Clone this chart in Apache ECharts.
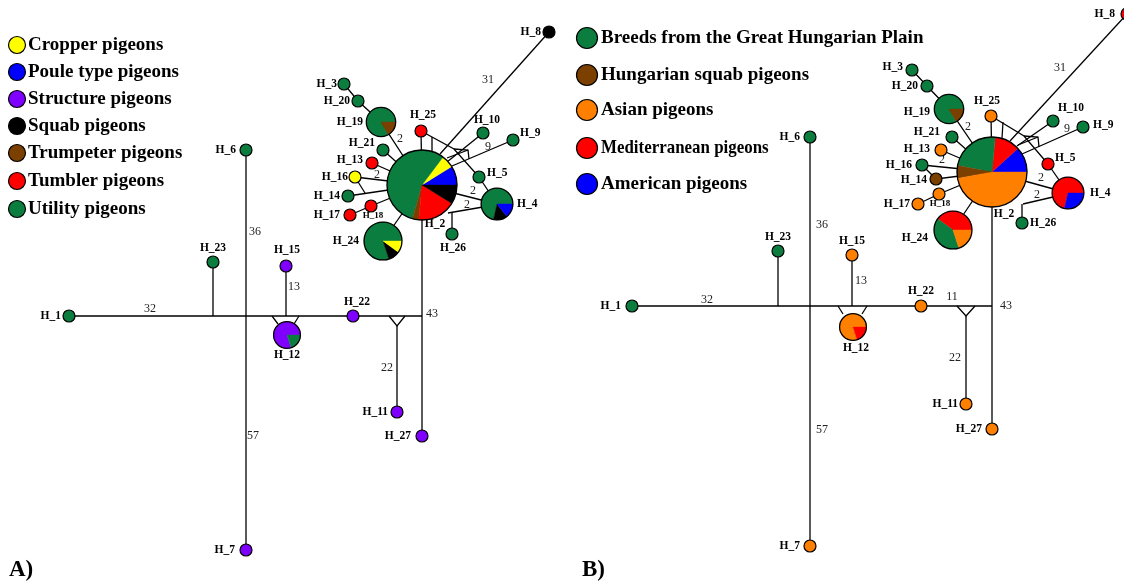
<!DOCTYPE html>
<html>
<head>
<meta charset="utf-8">
<title>Haplotype networks</title>
<script src="https://cdn.jsdelivr.net/npm/echarts/dist/echarts.min.js"></script>
<style>
  html, body { margin: 0; padding: 0; background: #fff; }
  #chart { width: 1124px; height: 581px; }
</style>
</head>
<body>
<div id="chart"></div>
<script>
// ---------- groups ----------
const groupsA = ['Cropper pigeons', 'Poule type pigeons', 'Structure pigeons', 'Squab pigeons',
                 'Trumpeter pigeons', 'Tumbler pigeons', 'Utility pigeons'];
const groupsB = ['Breeds from the Great Hungarian Plain', 'Hungarian squab pigeons', 'Asian pigeons',
                 'Mediterranean pigeons', 'American pigeons'];

// ---------- haplotype layout (network coordinates) ----------
const layoutA = {
  H_1: [69, 316], H_23: [213, 262], H_6: [246, 150], H_7: [246, 550], H_15: [286, 266],
  H_12: [287, 335], H_22: [353, 316], H_11: [397, 412], H_27: [422, 436], H_2: [422, 185],
  H_3: [344, 84], H_20: [358, 101], H_19: [381, 122], H_25: [421, 131], H_21: [383, 150],
  H_13: [372, 163], H_16: [355, 177], H_14: [348, 196], H_18: [371, 206], H_17: [350, 215],
  H_24: [383, 241], H_26: [452, 234], H_4: [497, 204], H_5: [479, 177], H_10: [483, 133],
  H_9: [513, 140], H_8: [549, 32]
};
const layoutB = {
  H_1: [632, 306], H_23: [778, 251], H_6: [810, 137], H_7: [810, 546], H_15: [852, 255],
  H_12: [853, 327], H_22: [921, 306], H_11: [966, 404], H_27: [992, 429], H_2: [992, 172],
  H_3: [912, 70], H_20: [927, 86], H_19: [949, 109], H_25: [991, 116], H_21: [952, 137],
  H_13: [941, 150], H_16: [922, 165], H_14: [936, 179], H_18: [939, 194], H_17: [918, 204],
  H_24: [953, 230], H_26: [1022, 223], H_4: [1068, 193], H_5: [1048, 164], H_10: [1053, 121],
  H_9: [1083, 127], H_8: [1127, 14]
};

// median / branching vertices of the networks
const junctionsA = {
  a1: [213, 316], a3: [286, 316], a4: [272, 316], a4b: [278, 324], a5: [299, 316], a5b: [294, 324],
  a6: [389, 316], a7: [405, 316], a8: [397, 326], a9: [422, 316], a10: [365, 193],
  r1: [454, 149], r2: [432, 137], r3: [432, 152], r4: [440, 154], r5: [447, 162], r6: [452, 166],
  r7: [468, 150], r8: [469, 159], r9: [447, 158], l1: [448, 213], l2: [483, 207], l3: [452, 212]
};
const junctionsB = {
  a1: [778, 306], a3: [852, 306], a4: [838, 306], a4b: [843, 314], a5: [867, 306], a5b: [862, 314],
  a6: [957, 306], a7: [975, 306], a8: [966, 316], a9: [992, 306],
  r1: [1024, 136], r2: [1003, 122], r3: [1002, 138], r4: [1010, 141], r5: [1017, 146], r6: [1022, 154],
  r7: [1038, 137], r8: [1039, 147], r9: [1018, 145], l1: [1023, 204], l2: [1053, 197], l3: [1022, 204]
};

// ---------- haplotype composition: [group index, individuals] in drawing order ----------
const compA = {
  H_1: [[6, 1]], H_23: [[6, 1]], H_6: [[6, 1]], H_7: [[2, 1]], H_15: [[2, 1]],
  H_12: [[2, 4], [6, 1]], H_22: [[2, 1]], H_11: [[2, 1]], H_27: [[2, 1]],
  H_2: [[1, 3], [0, 2], [6, 19], [4, 1], [5, 6], [3, 3]],
  H_3: [[6, 1]], H_20: [[6, 1]], H_19: [[6, 5], [4, 1]], H_25: [[5, 1]], H_21: [[6, 1]],
  H_13: [[5, 1]], H_16: [[0, 1]], H_14: [[6, 1]], H_18: [[5, 1]], H_17: [[5, 1]],
  H_24: [[6, 8], [3, 1], [0, 1]], H_26: [[6, 1]], H_4: [[6, 5], [3, 1], [1, 1]],
  H_5: [[6, 1]], H_10: [[6, 1]], H_9: [[6, 1]], H_8: [[3, 1]]
};
const compB = {
  H_1: [[0, 1]], H_23: [[0, 1]], H_6: [[0, 1]], H_7: [[2, 1]], H_15: [[2, 1]],
  H_12: [[2, 4], [3, 1]], H_22: [[2, 1]], H_11: [[2, 1]], H_27: [[2, 1]],
  H_2: [[4, 4], [3, 4], [0, 8], [1, 2], [2, 16]],
  H_3: [[0, 1]], H_20: [[0, 1]], H_19: [[0, 5], [1, 1]], H_25: [[2, 1]], H_21: [[0, 1]],
  H_13: [[2, 1]], H_16: [[0, 1]], H_14: [[1, 1]], H_18: [[2, 1]], H_17: [[2, 1]],
  H_24: [[3, 4], [0, 4], [2, 2]], H_26: [[0, 1]], H_4: [[3, 5], [4, 2]],
  H_5: [[3, 1]], H_10: [[0, 1]], H_9: [[0, 1]], H_8: [[3, 1]]
};

// ---------- network links ----------
const edgesA = [
  ['H_1', 'a9'], ['H_23', 'a1'], ['H_6', 'H_7'], ['H_15', 'a3'], ['a4', 'a4b'], ['a5', 'a5b'],
  ['a6', 'a8', 'a7'], ['a8', 'H_11'], ['H_2', 'H_27'],
  ['H_3', 'H_20', 'H_19', 'H_2'], ['H_25', 'H_2'], ['H_21', 'H_2'], ['H_13', 'H_2'],
  ['H_16', 'H_2'], ['H_14', 'H_2'], ['H_16', 'a10'], ['H_17', 'H_18', 'H_2'], ['H_24', 'H_2'],
  ['H_25', 'r1', 'H_5'], ['r2', 'r3'], ['H_8', 'r4'], ['H_10', 'r5'], ['H_9', 'r6'],
  ['r1', 'r7', 'r8'], ['r9', 'r7'], ['H_2', 'H_4'], ['l1', 'l2'], ['H_26', 'l3'], ['H_5', 'H_4']
];
const edgesB = [
  ['H_1', 'a9'], ['H_23', 'a1'], ['H_6', 'H_7'], ['H_15', 'a3'], ['a4', 'a4b'], ['a5', 'a5b'],
  ['a6', 'a8', 'a7'], ['a8', 'H_11'], ['H_2', 'H_27'],
  ['H_3', 'H_20', 'H_19', 'H_2'], ['H_25', 'H_2'], ['H_21', 'H_2'], ['H_13', 'H_2'],
  ['H_16', 'H_2'], ['H_16', 'H_14', 'H_2'], ['H_17', 'H_18', 'H_2'], ['H_24', 'H_2'],
  ['H_25', 'r1', 'H_5'], ['r2', 'r3'], ['H_8', 'r4'], ['H_10', 'r5'], ['H_9', 'r6'],
  ['r1', 'r7', 'r8'], ['r9', 'r7'], ['H_2', 'H_4'], ['l1', 'l2'], ['H_26', 'l3'], ['H_5', 'H_4']
];

// mutation counts written along the links
const stepsA = [
  ['32', 150, 309], ['36', 255, 232], ['57', 253, 436], ['13', 294, 287], ['22', 387, 368],
  ['43', 432, 314], ['31', 488, 80], ['9', 488, 147], ['2', 400, 139], ['2', 377, 175],
  ['2', 473, 191], ['2', 467, 205]
];
const stepsB = [
  ['32', 707, 300], ['36', 822, 225], ['57', 822, 430], ['13', 861, 281], ['11', 952, 297],
  ['22', 955, 358], ['43', 1006, 306], ['31', 1060, 68], ['9', 1067, 129], ['2', 968, 127],
  ['2', 942, 160], ['2', 1041, 178], ['2', 1037, 195]
];

// ---------- styling ----------
const colorsA = ['#FFFF00', '#0000FF', '#8000FF', '#000000', '#7B3F00', '#FF0000', '#0A7D3F'];
const colorsB = ['#0A7D3F', '#7B3F00', '#FF8000', '#FF0000', '#0000FF'];
const SERIF = '"Liberation Serif", "Times New Roman", serif';
// horizontal condensing of individual legend entries (1 = natural width)
const legendScaleB = [1, 1, 1, 0.89, 1];

// node label placement: [dx, dy, align, fontSize?]
const labelOffA = {
  H_1: [-8, 0, 'right'], H_23: [0, -14, 'center'], H_6: [-10, 0, 'right'], H_7: [-11, 0, 'right'],
  H_15: [1, -16, 'center'], H_12: [0, 20, 'center'], H_22: [4, -14, 'center'], H_11: [-9, 0, 'right'],
  H_27: [-11, 0, 'right'], H_2: [13, 39, 'center'], H_3: [-7, 0, 'right'], H_20: [-8, 0, 'right'],
  H_19: [-18, 0, 'right'], H_25: [2, -16, 'center'], H_21: [-8, -7, 'right'], H_13: [-9, -3, 'right'],
  H_16: [-7, 0, 'right'], H_14: [-8, 0, 'right'], H_18: [2, 10, 'center', 9], H_17: [-10, 0, 'right'],
  H_24: [-24, 0, 'right'], H_26: [1, 14, 'center'], H_4: [20, 0, 'left'], H_5: [8, -4, 'left'],
  H_10: [4, -13, 'center'], H_9: [7, -7, 'left'], H_8: [-8, 0, 'right']
};
const labelOffB = {
  H_1: [-11, 0, 'right'], H_23: [0, -14, 'center'], H_6: [-10, 0, 'right'], H_7: [-10, 0, 'right'],
  H_15: [0, -14, 'center'], H_12: [3, 21, 'center'], H_22: [0, -15, 'center'], H_11: [-8, 0, 'right'],
  H_27: [-10, 0, 'right'], H_2: [12, 42, 'center'], H_3: [-9, -3, 'right'], H_20: [-9, 0, 'right'],
  H_19: [-19, 3, 'right'], H_25: [-4, -15, 'center'], H_21: [-12, -5, 'right'], H_13: [-11, -1, 'right'],
  H_16: [-10, 0, 'right'], H_14: [-9, 1, 'right'], H_18: [1, 10, 'center', 9], H_17: [-8, 0, 'right'],
  H_24: [-25, 8, 'right'], H_26: [8, 0, 'left'], H_4: [22, 0, 'left'], H_5: [7, -6, 'left'],
  H_10: [18, -13, 'center'], H_9: [10, -2, 'left'], H_8: [-12, 0, 'right']
};

// node radius grows with the square root of haplotype frequency
const R_UNIT = 6;
const radiusOf = n => R_UNIT * Math.sqrt(n);

// ---------- assemble records for both panels ----------
const panels = [
  { layout: layoutA, junctions: junctionsA, comp: compA, colors: colorsA, edges: edgesA, steps: stepsA, labels: labelOffA },
  { layout: layoutB, junctions: junctionsB, comp: compB, colors: colorsB, edges: edgesB, steps: stepsB, labels: labelOffB }
];

const nodes = [];
const links = [];
const stepLabels = [];
panels.forEach(p => {
  const vertex = name => p.layout[name] || p.junctions[name];
  Object.keys(p.layout).forEach(name => {
    nodes.push({ name, x: p.layout[name][0], y: p.layout[name][1], slices: p.comp[name], colors: p.colors, label: p.labels[name] });
  });
  p.edges.forEach(path => links.push(path.map(vertex)));
  p.steps.forEach(s => stepLabels.push(s));
});

// ---------- renderers ----------
function renderLink(params, api) {
  const path = links[api.value(0)];
  return {
    type: 'polyline',
    shape: { points: path.map(v => api.coord(v)) },
    style: { stroke: '#000', lineWidth: 1.3, fill: null }
  };
}

function renderNode(params, api) {
  const rec = nodes[api.value(2)];
  const c = api.coord([api.value(0), api.value(1)]);
  const total = rec.slices.reduce((s, d) => s + d[1], 0);
  const r = radiusOf(total);
  const children = [];
  if (rec.slices.length === 1) {
    children.push({ type: 'circle', shape: { cx: c[0], cy: c[1], r },
      style: { fill: rec.colors[rec.slices[0][0]], stroke: '#000', lineWidth: 1.2 } });
  } else {
    let a = 0;
    rec.slices.forEach(([g, v]) => {
      const a2 = a + v / total * Math.PI * 2;
      const col = rec.colors[g];
      children.push({ type: 'sector',
        shape: { cx: c[0], cy: c[1], r, r0: 0, startAngle: -a2, endAngle: -a, clockwise: true },
        style: { fill: col, stroke: col, lineWidth: 0.4 } });
      a = a2;
    });
    children.push({ type: 'circle', shape: { cx: c[0], cy: c[1], r },
      style: { fill: 'none', stroke: '#000', lineWidth: 1.3 } });
  }
  const lo = rec.label;
  children.push({ type: 'text', x: c[0] + lo[0], y: c[1] + lo[1],
    style: { text: rec.name, fill: '#000', font: `bold ${lo[3] || 11.5}px ${SERIF}`,
             align: lo[2], verticalAlign: 'middle' } });
  return { type: 'group', children };
}

function renderStep(params, api) {
  const s = stepLabels[api.value(2)];
  const c = api.coord([api.value(0), api.value(1)]);
  return { type: 'text', x: c[0], y: c[1],
    style: { text: s[0], fill: '#222', font: `12px ${SERIF}`, align: 'center', verticalAlign: 'middle' } };
}

// ---------- legends ----------
function legendItems(names, colors, x0, ys, r, gap, scales) {
  const out = [];
  names.forEach((n, i) => {
    out.push({ type: 'circle', shape: { cx: x0, cy: ys[i], r },
      style: { fill: colors[i], stroke: '#000', lineWidth: 1.2 } });
    out.push({ type: 'text', x: x0 + r + gap, y: ys[i], scaleX: scales ? scales[i] : 1,
      style: { text: n, fill: '#000', font: `bold 19px ${SERIF}`, verticalAlign: 'middle' } });
  });
  return out;
}
const legendRowsA = [45, 72, 99, 126, 153, 181, 209];
const legendRowsB = [38, 75, 110, 148, 184];

const chart = echarts.init(document.getElementById('chart'), null, { renderer: 'canvas' });
chart.setOption({
  backgroundColor: '#fff',
  animation: false,
  grid: { left: 0, right: 0, top: 0, bottom: 0 },
  xAxis: { type: 'value', min: 0, max: 1124, show: false },
  yAxis: { type: 'value', min: 0, max: 581, inverse: true, show: false },
  graphic: [
    ...legendItems(groupsA, colorsA, 17, legendRowsA, 8.5, 2.5),
    ...legendItems(groupsB, colorsB, 587, legendRowsB, 10.5, 3.5, legendScaleB),
    { type: 'text', x: 9, y: 570, style: { text: 'A)', fill: '#000', font: `bold 23px ${SERIF}`, verticalAlign: 'middle' } },
    { type: 'text', x: 582, y: 570, style: { text: 'B)', fill: '#000', font: `bold 23px ${SERIF}`, verticalAlign: 'middle' } }
  ],
  series: [
    { type: 'custom', name: 'links', z: 1, silent: true, clip: false,
      data: links.map((l, i) => [i]), renderItem: renderLink },
    { type: 'custom', name: 'steps', z: 2, silent: true, clip: false,
      data: stepLabels.map((s, i) => [s[1], s[2], i]), renderItem: renderStep },
    { type: 'custom', name: 'haplotypes', z: 3, silent: true, clip: false,
      data: nodes.map((n, i) => [n.x, n.y, i]), renderItem: renderNode }
  ]
});
</script>
</body>
</html>
